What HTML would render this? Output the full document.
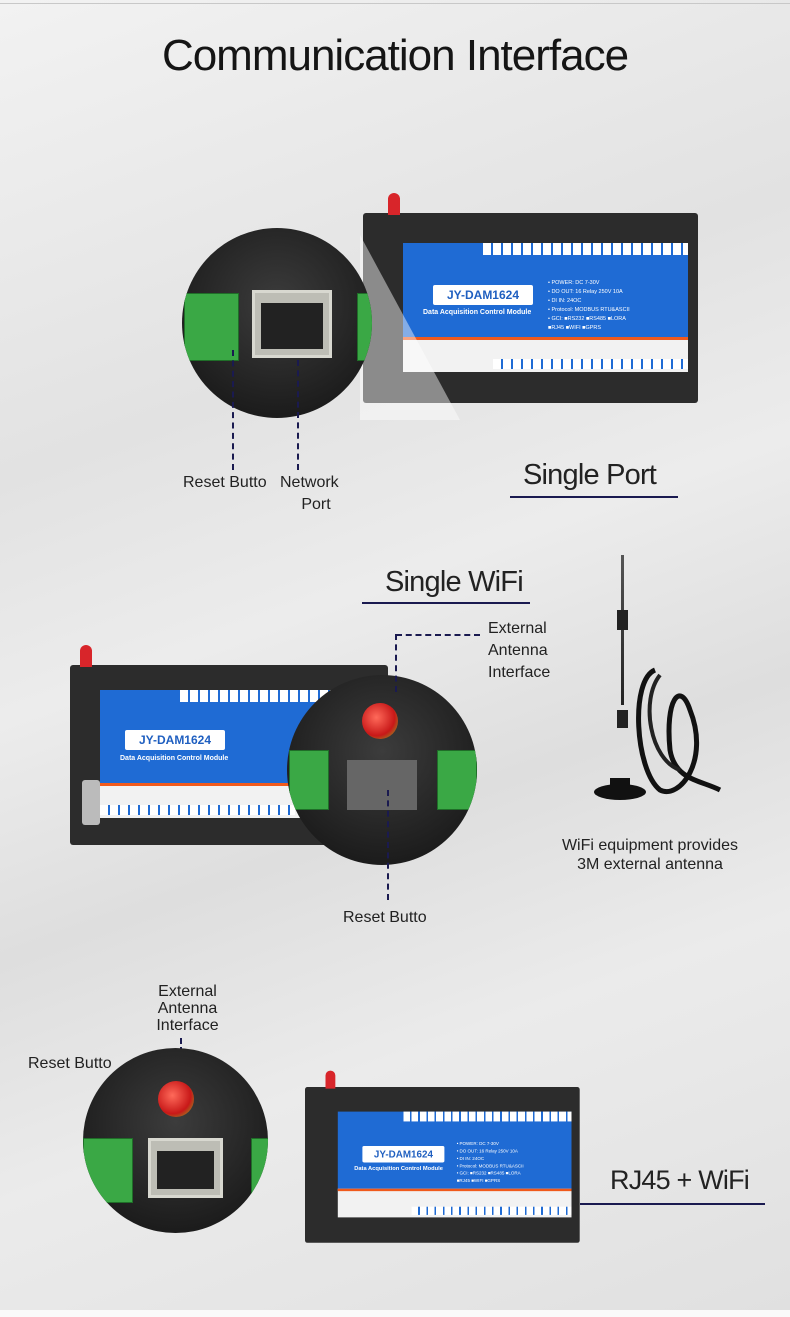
<!DOCTYPE html>
<html><head><meta charset="utf-8"><style>
*{margin:0;padding:0;box-sizing:border-box}
body{width:790px;height:1317px;position:relative;overflow:hidden;font-family:"Liberation Sans",sans-serif;background:#e4e4e4}
.a{position:absolute}
.t{position:absolute;color:#222;font-size:16px;line-height:22px;white-space:nowrap}
.h{font-size:29px;line-height:36px;letter-spacing:-0.8px}
.dv{position:absolute;width:335px;height:190px;transform-origin:0 0}
.dv .body{position:absolute;left:0;top:0;width:335px;height:190px;background:#2c2c2c;border-radius:3px}
.dv .ant{position:absolute;left:25px;top:-20px;width:12px;height:22px;background:#d8252a;border-radius:6px 6px 0 0}
.dv .blue{position:absolute;left:40px;top:30px;width:285px;height:95px;background:#1f6bd4}
.dv .strip{position:absolute;left:40px;top:124px;width:285px;height:35px;background:#f2f2f2;border-top:3px solid #f05a1c}
.dv .lbl{position:absolute;left:70px;top:72px;width:100px;height:20px;background:#fff;color:#1f5fc0;font-weight:bold;font-size:12px;text-align:center;line-height:20px;border-radius:2px}
.dv .sub{position:absolute;left:60px;top:96px;color:#fff;font-size:7px;font-weight:bold}
.dv .spec{position:absolute;left:185px;top:66px;color:#fff;font-size:5.5px;line-height:9px}
.dv .nums{position:absolute;left:120px;top:30px;width:205px;height:12px;background:repeating-linear-gradient(90deg,#fff 0 8px,#1f6bd4 8px 10px)}
.dv .nums2{position:absolute;left:130px;top:146px;width:195px;height:10px;background:repeating-linear-gradient(90deg,#fff 0 8px,#1f6bd4 8px 10px)}
.circ{position:absolute;border-radius:50%;background:radial-gradient(circle at 50% 40%,#3c3c3c,#1c1c1c 75%);overflow:hidden}
.grn{position:absolute;background:#3aa845;border:1px solid #1f6e28}
.rj{position:absolute;background:#bdbdb5;border:3px solid #d8d8d0}
.rj i{position:absolute;left:6px;right:6px;top:10px;bottom:6px;background:#222}
.ul{position:absolute;height:2px;background:#1a1a50}
.dl{position:absolute;border-left:2px dashed #1a1a50;width:0}
.dh{position:absolute;border-top:2px dashed #1a1a50;height:0}
</style></head><body>
<div class="a" style="left:0;top:0;width:790px;height:1317px;background:linear-gradient(160deg,#f2f2f2 0%,#e2e2e2 30%,#ececec 45%,#dedede 60%,#ebebeb 75%,#e0e0e0 100%)"></div>
<div class="a" style="left:0;top:3px;width:790px;height:1px;background:#c8c8c8"></div>
<div class="a" style="left:0;top:1310px;width:790px;height:7px;background:#fafafa"></div>
<div class="t" style="left:0;width:790px;text-align:center;top:28px;font-size:44px;line-height:56px;color:#151515;letter-spacing:-1px">Communication Interface</div>

<!-- Section 1 -->
<div class="dv" style="left:363px;top:213px">
 <div class="body"></div><div class="ant"></div><div class="blue"></div><div class="nums"></div><div class="strip"></div><div class="nums2"></div>
 <div class="lbl">JY-DAM1624</div><div class="sub">Data Acquisition Control Module</div>
 <div class="spec">• POWER: DC 7-30V<br>• DO OUT: 16 Relay 250V 10A<br>• DI IN: 24OC<br>• Protocol: MODBUS RTU&amp;ASCII<br>• GCI: ■RS232 ■RS485 ■LORA<br>■RJ45 ■WIFI ■GPRS</div>
</div>
<div class="a" style="left:360px;top:235px;width:100px;height:185px;background:rgba(255,255,255,0.45);clip-path:polygon(0 0,100% 100%,0 100%)"></div>
<div class="circ" style="left:182px;top:228px;width:190px;height:190px">
 <div class="grn" style="left:2px;top:65px;width:55px;height:68px"></div>
 <div class="grn" style="left:175px;top:65px;width:30px;height:68px"></div>
 <div class="rj" style="left:70px;top:62px;width:80px;height:68px"><i></i></div>
</div>
<div class="dl" style="left:232px;top:350px;height:120px"></div>
<div class="dl" style="left:297px;top:360px;height:110px"></div>
<div class="t" style="left:183px;top:472px">Reset Butto</div>
<div class="t" style="left:280px;top:472px;text-align:center">Network<br>&nbsp;&nbsp;&nbsp;Port</div>
<div class="t h" style="left:523px;top:457px">Single Port</div>
<div class="ul" style="left:510px;top:496px;width:168px"></div>

<!-- Section 2 -->
<div class="t h" style="left:385px;top:564px">Single WiFi</div>
<div class="ul" style="left:362px;top:602px;width:168px"></div>
<div class="dv" style="left:70px;top:665px;width:318px;height:180px">
 <div class="body" style="width:318px;height:180px"></div><div class="ant" style="left:10px"></div>
 <div class="blue" style="left:30px;top:25px"></div><div class="nums" style="left:110px;top:25px"></div>
 <div class="strip" style="left:30px;top:118px"></div><div class="nums2" style="left:30px;top:140px"></div>
 <div class="lbl" style="left:55px;top:65px">JY-DAM1624</div><div class="sub" style="left:50px;top:90px">Data Acquisition Control Module</div>
 <div class="a" style="left:12px;top:115px;width:18px;height:45px;background:#bbb;border-radius:3px"></div>
</div>
<div class="circ" style="left:287px;top:675px;width:190px;height:190px">
 <div class="grn" style="left:2px;top:75px;width:40px;height:60px"></div>
 <div class="grn" style="left:150px;top:75px;width:40px;height:60px"></div>
 <div class="a" style="left:60px;top:85px;width:70px;height:50px;background:#666"></div>
 <div class="a" style="left:75px;top:28px;width:36px;height:36px;border-radius:50%;background:radial-gradient(circle at 40% 40%,#ff6a5a,#c81818 60%,#a07020 80%)"></div>
</div>
<div class="dh" style="left:396px;top:634px;width:84px"></div>
<div class="dl" style="left:395px;top:634px;height:58px"></div>
<div class="t" style="left:488px;top:618px">External<br>Antenna<br>Interface</div>
<div class="dl" style="left:387px;top:790px;height:110px"></div>
<div class="t" style="left:343px;top:907px">Reset Butto</div>
<!-- antenna -->
<div class="a" style="left:621px;top:555px;width:3px;height:150px;background:linear-gradient(#555,#222)"></div>
<div class="a" style="left:617px;top:610px;width:11px;height:20px;background:#222"></div>
<div class="a" style="left:617px;top:710px;width:11px;height:18px;background:#222"></div>
<svg class="a" style="left:540px;top:650px" width="200" height="180"><path d="M115 20 C90 30,95 120,120 140 C140 150,170 110,150 60 C140 30,125 50,130 100 C135 130,160 130,180 140" stroke="#111" stroke-width="5" fill="none"/><path d="M120 25 C100 50,110 110,140 120" stroke="#222" stroke-width="4" fill="none"/><ellipse cx="80" cy="142" rx="26" ry="8" fill="#111"/><rect x="70" y="128" width="20" height="12" fill="#111"/></svg>
<div class="t" style="left:540px;top:836px;width:220px;text-align:center;line-height:19px">WiFi equipment provides<br>3M external antenna</div>

<!-- Section 3 -->
<div class="t" style="left:140px;top:983px;width:95px;text-align:center;line-height:17px">External<br>Antenna<br>Interface</div>
<div class="dl" style="left:180px;top:1038px;height:42px"></div>
<div class="t" style="left:28px;top:1053px">Reset Butto</div>
<div class="dh" style="left:124px;top:1064px;width:14px"></div>
<div class="dl" style="left:137px;top:1064px;height:60px"></div>
<div class="circ" style="left:83px;top:1048px;width:185px;height:185px">
 <div class="grn" style="left:0;top:90px;width:50px;height:65px"></div>
 <div class="grn" style="left:168px;top:90px;width:20px;height:65px"></div>
 <div class="rj" style="left:65px;top:90px;width:75px;height:60px"><i></i></div>
 <div class="a" style="left:75px;top:33px;width:36px;height:36px;border-radius:50%;background:radial-gradient(circle at 40% 40%,#ff6a5a,#c81818 60%,#a07020 80%)"></div>
</div>
<div class="dv" style="left:305px;top:1087px;transform:scale(0.82)">
 <div class="body"></div><div class="ant"></div><div class="blue"></div><div class="nums"></div><div class="strip"></div><div class="nums2"></div>
 <div class="lbl">JY-DAM1624</div><div class="sub">Data Acquisition Control Module</div>
 <div class="spec">• POWER: DC 7-30V<br>• DO OUT: 16 Relay 250V 10A<br>• DI IN: 24OC<br>• Protocol: MODBUS RTU&amp;ASCII<br>• GCI: ■RS232 ■RS485 ■LORA<br>■RJ45 ■WIFI ■GPRS</div>
</div>
<div class="t h" style="left:610px;top:1162px;font-size:27px">RJ45 + WiFi</div>
<div class="ul" style="left:580px;top:1203px;width:185px"></div>
</body></html>
